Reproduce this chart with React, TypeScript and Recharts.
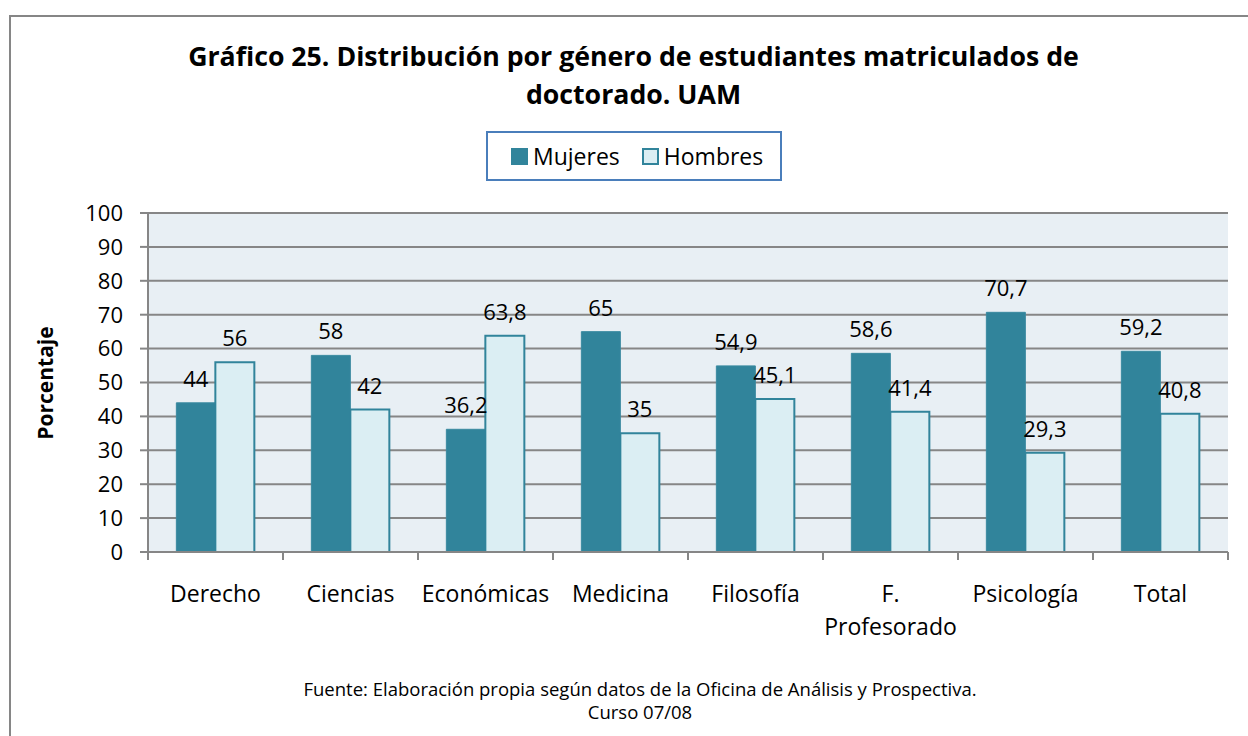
import React from 'react';
import { BarChart, Bar, XAxis, YAxis, CartesianGrid, LabelList } from 'recharts';

const categories = ['Derecho', 'Ciencias', 'Económicas', 'Medicina', 'Filosofía', 'F. Profesorado', 'Psicología', 'Total'];
const mujeres = [44, 58, 36.2, 65, 54.9, 58.6, 70.7, 59.2];
const hombres = [56, 42, 63.8, 35, 45.1, 41.4, 29.3, 40.8];
const yTicks = [0, 10, 20, 30, 40, 50, 60, 70, 80, 90, 100];

const FONT = '"Open Sans", Lato, sans-serif';
const DARK = '#31849b';
const LIGHT = '#dbeef3';
const GRID = '#868686';

const PLOT_W = 1080;
const BAND = PLOT_W / categories.length;

const data = categories.map((c, i) => ({ name: c, mujeres: mujeres[i], hombres: hombres[i] }));

const fmt = (v: any) => String(v).replace('.', ',');

function XTick(props: any) {
  const { x, y, payload, index } = props;
  const lines = String(payload.value).split(' ');
  const last = index === categories.length - 1;
  return (
    <g>
      <line x1={x - BAND / 2} y1={y} x2={x - BAND / 2} y2={y + 8} stroke={GRID} strokeWidth={2} />
      {last && <line x1={x + BAND / 2} y1={y} x2={x + BAND / 2} y2={y + 8} stroke={GRID} strokeWidth={2} />}
      <text x={x} y={y + 50} textAnchor="middle" fontSize={23} fill="#000" fontFamily={FONT}>
        {lines.map((l, i) => (
          <tspan key={i} x={x} dy={i === 0 ? 0 : 33}>{l}</tspan>
        ))}
      </text>
    </g>
  );
}

export default function App() {
  return (
    <div style={{ position: 'absolute', left: 0, top: 0, width: 1248, height: 736, overflow: 'hidden', background: '#fff', fontFamily: FONT }}>
      <div style={{ position: 'absolute', left: 9, top: 15, width: 1260, height: 760, border: `2px solid ${GRID}`, boxSizing: 'border-box' }} />
      <div style={{ position: 'absolute', left: 0, top: 37, width: 1267, textAlign: 'center', fontSize: 26.7, fontWeight: 700, lineHeight: '38px', color: '#000' }}>
        Gráfico 25. Distribución por género de estudiantes matriculados de<br />doctorado. UAM
      </div>
      <div style={{ position: 'absolute', left: 486, top: 131, width: 296, height: 50, border: '2px solid #4a7ebb', boxSizing: 'border-box', display: 'flex', alignItems: 'center', paddingLeft: 23, fontSize: 23, color: '#000' }}>
        <span style={{ width: 15, height: 15, background: DARK, border: `1px solid ${DARK}`, marginRight: 5 }} />
        <span style={{ marginRight: 22 }}>Mujeres</span>
        <span style={{ width: 13, height: 13, background: LIGHT, border: `2px solid ${DARK}`, marginRight: 5 }} />
        <span>Hombres</span>
      </div>
      <div style={{ position: 'absolute', left: 45, top: 383, transform: 'translate(-50%, -50%) rotate(-90deg)', fontSize: 21, fontWeight: 700, whiteSpace: 'nowrap' }}>
        Porcentaje
      </div>
      <div style={{ position: 'absolute', left: 0, top: 0 }}>
        <BarChart
          width={1248}
          height={736}
          data={data}
          margin={{ top: 213, right: 20, left: 88, bottom: 124 }}
          barGap={0}
          barCategoryGap="21%"
        >
          <CartesianGrid vertical={false} stroke={GRID} strokeWidth={2} fill="#e8eff4" fillOpacity={1} />
          <XAxis
            dataKey="name"
            height={60}
            axisLine={{ stroke: GRID, strokeWidth: 2 }}
            tickLine={false}
            tickSize={0}
            tickMargin={0}
            interval={0}
            tick={<XTick />}
          />
          <YAxis
            width={60}
            domain={[0, 100]}
            ticks={yTicks}
            interval={0}
            axisLine={{ stroke: GRID, strokeWidth: 2 }}
            tickLine={{ stroke: GRID, strokeWidth: 2 }}
            tickSize={8}
            tickMargin={17}
            tick={{ fontSize: 22, fill: '#000', fontFamily: FONT }}
          />
          <Bar dataKey="mujeres" fill={DARK} stroke="#3a8aa0" strokeWidth={1} isAnimationActive={false}>
            <LabelList dataKey="mujeres" position="top" offset={16} formatter={fmt} fontSize={22} fill="#000" fontFamily={FONT} />
          </Bar>
          <Bar dataKey="hombres" fill={LIGHT} stroke={DARK} strokeWidth={2} isAnimationActive={false}>
            <LabelList dataKey="hombres" position="top" offset={16} formatter={fmt} fontSize={22} fill="#000" fontFamily={FONT} />
          </Bar>
        </BarChart>
      </div>
      <div style={{ position: 'absolute', left: 0, top: 677, width: 1280, textAlign: 'center', fontSize: 18.5, lineHeight: '23px', color: '#000' }}>
        Fuente: Elaboración propia según datos de la Oficina de Análisis y Prospectiva.<br />Curso 07/08
      </div>
    </div>
  );
}
